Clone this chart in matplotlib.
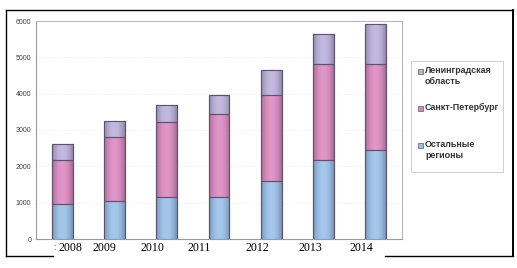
import matplotlib
matplotlib.use("Agg")
import matplotlib.pyplot as plt
import numpy as np
from matplotlib.patches import Rectangle
from matplotlib.lines import Line2D
from matplotlib.colors import to_rgb

years = ["2008", "2009", "2010", "2011", "2012", "2013", "2014"]
other_regions = [955, 1046, 1164, 1164, 1605, 2166, 2458]
spb = [1211, 1761, 2047, 2267, 2367, 2642, 2350]
len_obl = [440, 433, 477, 532, 679, 843, 1109]
series_names = ["Ленинградская\nобласть", "Санкт-Петербург", "Остальные\nрегионы"]
yticks = [0, 1000, 2000, 3000, 4000, 5000, 6000]

W, H = 517, 268
fig = plt.figure(figsize=(W / 100, H / 100), dpi=100)
fig.patch.set_facecolor("white")

def fx(px):
    return px / W

def fy(py):
    return 1 - py / H

ax = fig.add_axes([fx(36), fy(239), fx(402) - fx(36), fy(21) - fy(239)])
ax.set_xlim(-0.5, 6.5)
ax.set_ylim(0, 6000)

c_blue = "#98c0ea"
c_pink = "#dc88c0"
c_lav = "#bbb0dc"
edge = "#5e5270"

x = np.arange(len(years))
bw = 0.40

def grad_bar(xc, bottom, height, color):
    rect = Rectangle((xc - bw / 2, bottom), bw, height, facecolor=color,
                     edgecolor=edge, linewidth=0.8, zorder=3)
    ax.add_patch(rect)
    base = np.array(to_rgb(color))
    t = np.linspace(-1, 1, 40)
    f = 1 - 0.22 * t ** 2
    hl = np.clip(base[None, :] * f[:, None] + 0.12 * (1 - t[:, None] ** 2) * (1 - base[None, :]), 0, 1)
    img = hl[None, :, :]
    im = ax.imshow(img, extent=(xc - bw / 2, xc + bw / 2, bottom, bottom + height),
                   aspect="auto", zorder=3.5, interpolation="bilinear")
    im.set_clip_path(rect)
    border = Rectangle((xc - bw / 2, bottom), bw, height, facecolor="none",
                       edgecolor=edge, linewidth=0.8, zorder=4)
    ax.add_patch(border)

b1 = np.array(other_regions)
b2 = b1 + np.array(spb)
for i in range(len(years)):
    grad_bar(x[i], 0, other_regions[i], c_blue)
    grad_bar(x[i], b1[i], spb[i], c_pink)
    grad_bar(x[i], b2[i], len_obl[i], c_lav)

ax.set_xlim(-0.5, 6.5)
ax.set_ylim(0, 6000)
ax.set_yticks(yticks)
ax.set_yticklabels([str(v) for v in yticks], fontsize=5.0, color="#404040",
                   family="Liberation Sans")
ax.tick_params(axis="y", length=0, pad=3.5)
ax.set_xticks([])
for yv in yticks[1:-1]:
    ax.axhline(yv, color="#e4e4e4", lw=0.6, ls=(0, (1, 2)), zorder=1)
for s in ax.spines.values():
    s.set_color("#b8b8b8")
    s.set_linewidth(0.8)
ax.spines["left"].set_color("#9a9a9a")
ax.spines["bottom"].set_color("#9a9a9a")

# year labels typed below the chart
label_x = [70, 104, 152, 199, 257, 310, 361.5]
for lx, yr in zip(label_x, years):
    fig.text(fx(lx), fy(248), yr, ha="center", va="center", fontsize=8.6,
             family="Liberation Serif", color="black")
fig.text(fx(55), fy(248), ":", ha="center", va="center", fontsize=7,
         family="Liberation Serif", color="#808080")

# outer frame
frame_kw = dict(color="black", lw=1.0, transform=fig.transFigure)
fig.add_artist(Line2D([fx(6), fx(513)], [fy(10), fy(10)], **frame_kw))
fig.add_artist(Line2D([fx(6), fx(6)], [fy(10), fy(256)], **frame_kw))
fig.add_artist(Line2D([fx(513), fx(513)], [fy(10), fy(256)], color="black", lw=1.4,
                      transform=fig.transFigure))
fig.add_artist(Line2D([fx(6), fx(53)], [fy(256), fy(256)], **frame_kw))
fig.add_artist(Line2D([fx(385), fx(513)], [fy(256), fy(256)], **frame_kw))

# legend
fig.add_artist(Rectangle((fx(411), fy(172)), fx(503) - fx(411), fy(61) - fy(172),
                         transform=fig.transFigure, facecolor="white",
                         edgecolor="#cfcfcf", lw=0.7))
leg_colors = [c_lav, c_pink, c_blue]
leg_y = [71, 108, 145]
for name, col, ly in zip(series_names, leg_colors, leg_y):
    fig.add_artist(Rectangle((fx(418), fy(ly + 2.5)), fx(5), fx(5) * W / H,
                             transform=fig.transFigure, facecolor=col,
                             edgecolor="#707070", lw=0.6))
    fig.text(fx(425), fy(ly - 5), name, ha="left", va="top", fontsize=6.4,
             fontweight="bold", family="Liberation Sans", color="#333333",
             linespacing=1.3)

fig.savefig("out.png", dpi=100, facecolor="white")
